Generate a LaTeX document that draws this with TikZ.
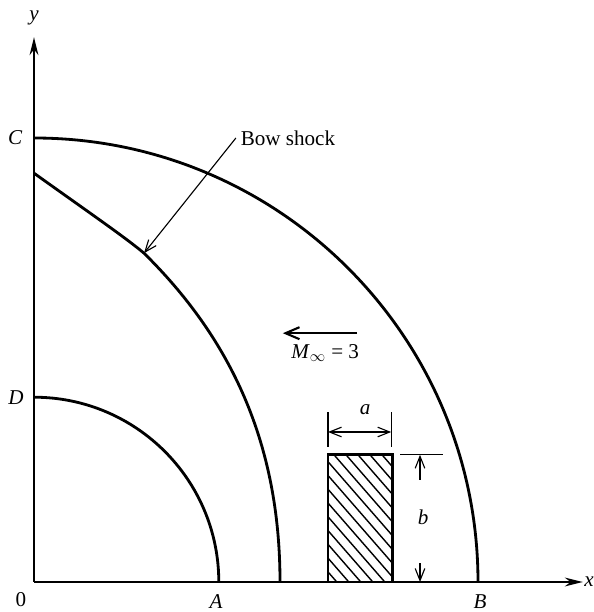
\documentclass[tikz,border=0pt]{standalone}
\usepackage{fontspec}
\setmainfont{Liberation Serif}
\usetikzlibrary{arrows.meta, calc}

\begin{document}
\begin{tikzpicture}[every node/.style={font=\fontsize{15}{17}\selectfont},
    shockline/.style={line width=2pt},
    thinline/.style={line width=0.8pt},
    barb/.style={thinline, -{Straight Barb[length=3mm, width=2.4mm]}},
    axisline/.style={line width=1.5pt, -{Stealth[length=4.5mm, width=2.2mm]}}]
    \useasboundingbox (-0.85,-0.75) rectangle (13.975,14.55);

    \coordinate (O)     at (0,0);
    \coordinate (ytip)  at (0,13.62);
    \coordinate (xtip)  at (13.72,0);
    \coordinate (C)     at (0,11.1);
    \coordinate (D)     at (0,4.62);
    \coordinate (E)     at (0,10.22);
    \coordinate (shock) at (2.75,8.22);
    \coordinate (bodySW) at (7.35,0);
    \coordinate (bodyNE) at (8.97,3.18);

    \begin{scope}
      \clip (bodySW) rectangle (bodyNE);
      \foreach \c in {4.5,4.8,...,9.3}
        \draw[line width=1pt] (\c,3.18) -- ++(2.77,-3.18);
    \end{scope}
    \draw[shockline] (bodySW) rectangle (bodyNE);

    \draw[axisline] (O) -- (ytip);
    \draw[axisline] (O) -- (xtip);

    \draw[shockline] (C) arc[start angle=90, end angle=0, radius=11.1];
    \draw[shockline] (D) arc[start angle=90, end angle=0, radius=4.62];
    \draw[shockline] (E) .. controls (1.5,9.15) and (2.3,8.6) .. (shock)
      .. controls (4.9,6.1) and (6.15,3.5) .. (6.15,0);

    \node (bowlbl) at (6.35,11.1) {Bow shock};
    \draw[barb] (bowlbl.west) -- (shock);

    \coordinate (flowtail) at (8.08,6.22);
    \coordinate (flowhead) at (6.22,6.22);
    \draw[line width=1.5pt, -{Straight Barb[length=3.5mm, width=3mm]}] (flowtail) -- (flowhead);
    \node (machlbl) at (7.28,5.72) {\textit{M}$_{\infty}$ = 3};

    % dimension a
    \coordinate (aL) at (7.35,3.75);
    \coordinate (aR) at (8.93,3.75);
    \draw[thinline] (7.35,3.38) -- (7.35,4.25);
    \draw[thinline] (8.93,3.38) -- (8.93,4.25);
    \draw[thinline, {Straight Barb[length=3mm, width=2.4mm]}-{Straight Barb[length=3mm, width=2.4mm]}] (aL) -- (aR);
    \node (alabel) at (8.28,4.3) {\textit{a}};

    % dimension b
    \coordinate (bTop) at (9.65,3.18);
    \coordinate (bBot) at (9.65,0);
    \draw[thinline] (9.15,3.18) -- (10.22,3.18);
    \draw[barb] (9.65,2.55) -- (bTop);
    \draw[barb] (9.65,0.47) -- (bBot);
    \node (blabel) at (9.73,1.62) {\textit{b}};

    \node (Clbl) at (-0.47,11.1) {\textit{C}};
    \node (Dlbl) at (-0.45,4.62) {\textit{D}};
    \node (Albl) at (4.55,-0.48) {\textit{A}};
    \node (Blbl) at (11.15,-0.48) {\textit{B}};
    \node (Olbl) at (-0.33,-0.45) {0};
    \node[anchor=west, inner sep=1pt] (xlbl) at (13.72,0) {\textit{x}};
    \node (ylbl) at (0,14.1) {\textit{y}};
\end{tikzpicture}
\end{document}
